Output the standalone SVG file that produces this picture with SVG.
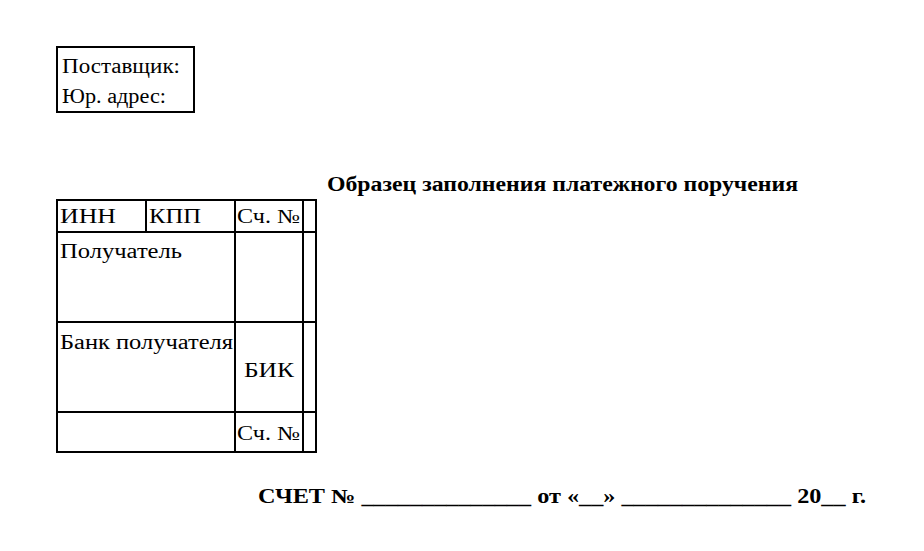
<svg xmlns="http://www.w3.org/2000/svg" width="924" height="551" viewBox="0 0 924 551">
<style>
text{font-family:"Liberation Serif",serif;font-size:20px;fill:#000}
.b{font-weight:bold}
.l{stroke:#000;stroke-width:2;fill:none}
</style>
<rect width="924" height="551" fill="#fff"/>
<g id="supplier">
<rect class="l" x="57" y="47" width="137" height="65"/>
<text x="62" y="73" textLength="118" lengthAdjust="spacingAndGlyphs">Поставщик:</text>
<text x="62" y="103" textLength="104" lengthAdjust="spacingAndGlyphs">Юр. адрес:</text>
</g>
<text class="b" x="327" y="191" textLength="471" lengthAdjust="spacingAndGlyphs">Образец заполнения платежного поручения</text>
<g id="table">
<rect class="l" x="57" y="200" width="259" height="252"/>
<line class="l" x1="57" y1="232" x2="316" y2="232"/>
<line class="l" x1="57" y1="322" x2="316" y2="322"/>
<line class="l" x1="57" y1="412" x2="316" y2="412"/>
<line class="l" x1="146" y1="200" x2="146" y2="232"/>
<line class="l" x1="235" y1="200" x2="235" y2="452"/>
<line class="l" x1="303" y1="200" x2="303" y2="452"/>
<text x="60" y="223" textLength="56" lengthAdjust="spacingAndGlyphs">ИНН</text>
<text x="149" y="223" textLength="52" lengthAdjust="spacingAndGlyphs">КПП</text>
<text x="237" y="223" textLength="63" lengthAdjust="spacingAndGlyphs">Сч. №</text>
<text x="60" y="258" textLength="122" lengthAdjust="spacingAndGlyphs">Получатель</text>
<text x="60" y="349" textLength="173" lengthAdjust="spacingAndGlyphs">Банк получателя</text>
<text x="244" y="377" textLength="50" lengthAdjust="spacingAndGlyphs">БИК</text>
<text x="237" y="440" textLength="63" lengthAdjust="spacingAndGlyphs">Сч. №</text>
</g>
<text class="b" x="258" y="503" textLength="608" lengthAdjust="spacingAndGlyphs">СЧЕТ №  ______________ от «__» ______________ 20__ г.</text>
</svg>
